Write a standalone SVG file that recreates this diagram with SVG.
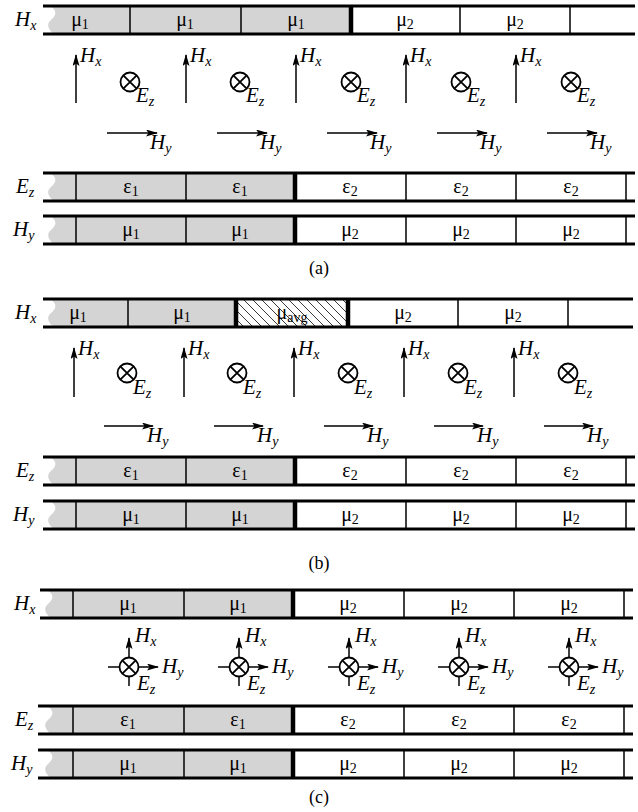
<svg xmlns="http://www.w3.org/2000/svg" width="638" height="812" viewBox="0 0 638 812" font-family="'Liberation Serif', 'Times New Roman', serif" font-size="20">
<defs>
<style>
.bd{stroke:#000;stroke-width:3}
.dv{stroke:#000;stroke-width:1.5}
.tk{stroke:#000;stroke-width:4.5}
.g{fill:#d4d4d4}
.ar{stroke:#000;stroke-width:1.5;fill:none;marker-end:url(#ah)}
.ln{stroke:#000;stroke-width:1.5;fill:none}
.ot{stroke:#000;stroke-width:1.8;fill:none}
</style>
<marker id="ah" markerUnits="userSpaceOnUse" markerWidth="12" markerHeight="7" refX="11" refY="3.5" orient="auto">
<path d="M0,0 L12,3.5 L0,7 L2.5,3.5 Z" fill="#000"/>
</marker>
<pattern id="hatch" patternUnits="userSpaceOnUse" width="9" height="9">
<path d="M-2,-2 L11,11 M-2,7 L2,11 M7,-2 L11,2" stroke="#222" stroke-width="0.9"/>
</pattern>
<g id="otimes"><circle r="9.5" class="ot"/><path d="M-6.7,-6.7 L6.7,6.7 M-6.7,6.7 L6.7,-6.7" class="ot"/></g>
</defs>
<rect width="638" height="812" fill="#fff"/>

<!-- ============ (a) ============ -->
<g id="a-hx-strip" transform="translate(0,6)">
<path class="g" d="M50,0 C58,5 56,10 51,14 C46,18 48,24 54,28 L351,28 L351,0 Z"/>
<line class="dv" x1="130" y1="0" x2="130" y2="28"/>
<line class="dv" x1="241" y1="0" x2="241" y2="28"/>
<line class="dv" x1="460" y1="0" x2="460" y2="28"/>
<line class="dv" x1="570" y1="0" x2="570" y2="28"/>
<line class="tk" x1="351" y1="0" x2="351" y2="28"/>
<line class="bd" x1="43" y1="0" x2="635" y2="0"/>
<line class="bd" x1="43" y1="28" x2="635" y2="28"/>
<g text-anchor="middle">
<text x="80" y="20">μ<tspan font-size="14" dy="3">1</tspan></text>
<text x="185" y="20">μ<tspan font-size="14" dy="3">1</tspan></text>
<text x="296" y="20">μ<tspan font-size="14" dy="3">1</tspan></text>
<text x="405" y="20">μ<tspan font-size="14" dy="3">2</tspan></text>
<text x="515" y="20">μ<tspan font-size="14" dy="3">2</tspan></text>
</g>
<text font-style="italic" font-size="21" x="15" y="20">H<tspan font-size="14" dy="4">x</tspan></text>
</g>

<g id="a-fields" font-style="italic" font-size="21">
<line class="ar" x1="76" y1="103" x2="76" y2="55"/>
<line class="ar" x1="186" y1="103" x2="186" y2="55"/>
<line class="ar" x1="296" y1="103" x2="296" y2="55"/>
<line class="ar" x1="406" y1="103" x2="406" y2="55"/>
<line class="ar" x1="516" y1="103" x2="516" y2="55"/>
<text x="80" y="62">H<tspan font-size="14" dy="4">x</tspan></text>
<text x="190" y="62">H<tspan font-size="14" dy="4">x</tspan></text>
<text x="300" y="62">H<tspan font-size="14" dy="4">x</tspan></text>
<text x="410" y="62">H<tspan font-size="14" dy="4">x</tspan></text>
<text x="520" y="62">H<tspan font-size="14" dy="4">x</tspan></text>
<use href="#otimes" x="130" y="82"/>
<use href="#otimes" x="240" y="82"/>
<use href="#otimes" x="351" y="82"/>
<use href="#otimes" x="461" y="82"/>
<use href="#otimes" x="571" y="82"/>
<text x="136" y="102">E<tspan font-size="14" dy="4">z</tspan></text>
<text x="246" y="102">E<tspan font-size="14" dy="4">z</tspan></text>
<text x="357" y="102">E<tspan font-size="14" dy="4">z</tspan></text>
<text x="467" y="102">E<tspan font-size="14" dy="4">z</tspan></text>
<text x="577" y="102">E<tspan font-size="14" dy="4">z</tspan></text>
<line class="ar" x1="107" y1="133" x2="157" y2="133"/>
<line class="ar" x1="217" y1="133" x2="267" y2="133"/>
<line class="ar" x1="327" y1="133" x2="377" y2="133"/>
<line class="ar" x1="437" y1="133" x2="487" y2="133"/>
<line class="ar" x1="547" y1="133" x2="597" y2="133"/>
<text x="150" y="149">H<tspan font-size="14" dy="4">y</tspan></text>
<text x="260" y="149">H<tspan font-size="14" dy="4">y</tspan></text>
<text x="370" y="149">H<tspan font-size="14" dy="4">y</tspan></text>
<text x="480" y="149">H<tspan font-size="14" dy="4">y</tspan></text>
<text x="590" y="149">H<tspan font-size="14" dy="4">y</tspan></text>
</g>

<g id="a-ez-strip" transform="translate(0,173)">
<path class="g" d="M50,0 C58,5 56,10 51,14 C46,18 48,24 54,28 L295,28 L295,0 Z"/>
<line class="dv" x1="76" y1="0" x2="76" y2="28"/>
<line class="dv" x1="186" y1="0" x2="186" y2="28"/>
<line class="dv" x1="406" y1="0" x2="406" y2="28"/>
<line class="dv" x1="516" y1="0" x2="516" y2="28"/>
<line class="dv" x1="626" y1="0" x2="626" y2="28"/>
<line class="tk" x1="295" y1="0" x2="295" y2="28"/>
<line class="bd" x1="43" y1="0" x2="635" y2="0"/>
<line class="bd" x1="43" y1="28" x2="635" y2="28"/>
<g text-anchor="middle">
<text x="131" y="20">ε<tspan font-size="14" dy="3">1</tspan></text>
<text x="240" y="20">ε<tspan font-size="14" dy="3">1</tspan></text>
<text x="350" y="20">ε<tspan font-size="14" dy="3">2</tspan></text>
<text x="461" y="20">ε<tspan font-size="14" dy="3">2</tspan></text>
<text x="571" y="20">ε<tspan font-size="14" dy="3">2</tspan></text>
</g>
<text font-style="italic" font-size="21" x="16" y="20">E<tspan font-size="14" dy="4">z</tspan></text>
</g>

<g id="a-hy-strip" transform="translate(0,216)">
<path class="g" d="M50,0 C58,5 56,10 51,14 C46,18 48,24 54,28 L295,28 L295,0 Z"/>
<line class="dv" x1="76" y1="0" x2="76" y2="28"/>
<line class="dv" x1="186" y1="0" x2="186" y2="28"/>
<line class="dv" x1="406" y1="0" x2="406" y2="28"/>
<line class="dv" x1="516" y1="0" x2="516" y2="28"/>
<line class="dv" x1="626" y1="0" x2="626" y2="28"/>
<line class="tk" x1="295" y1="0" x2="295" y2="28"/>
<line class="bd" x1="43" y1="0" x2="635" y2="0"/>
<line class="bd" x1="43" y1="28" x2="635" y2="28"/>
<g text-anchor="middle">
<text x="131" y="20">μ<tspan font-size="14" dy="3">1</tspan></text>
<text x="240" y="20">μ<tspan font-size="14" dy="3">1</tspan></text>
<text x="350" y="20">μ<tspan font-size="14" dy="3">2</tspan></text>
<text x="461" y="20">μ<tspan font-size="14" dy="3">2</tspan></text>
<text x="571" y="20">μ<tspan font-size="14" dy="3">2</tspan></text>
</g>
<text font-style="italic" font-size="21" x="13" y="20">H<tspan font-size="14" dy="4">y</tspan></text>
</g>
<text id="cap-a" text-anchor="middle" font-size="18" x="319" y="274">(a)</text>

<!-- ============ (b) ============ -->
<g id="b-hx-strip" transform="translate(0,299)">
<path class="g" d="M50,0 C58,5 56,10 51,14 C46,18 48,24 54,28 L236,28 L236,0 Z"/>
<rect x="236" y="0" width="112" height="28" fill="url(#hatch)"/>
<line class="dv" x1="128" y1="0" x2="128" y2="28"/>
<line class="dv" x1="458" y1="0" x2="458" y2="28"/>
<line class="dv" x1="568" y1="0" x2="568" y2="28"/>
<line class="tk" x1="236" y1="0" x2="236" y2="28"/>
<line class="tk" x1="348" y1="0" x2="348" y2="28"/>
<line class="bd" x1="43" y1="0" x2="633" y2="0"/>
<line class="bd" x1="43" y1="28" x2="633" y2="28"/>
<g text-anchor="middle">
<text x="78" y="20">μ<tspan font-size="14" dy="3">1</tspan></text>
<text x="182" y="20">μ<tspan font-size="14" dy="3">1</tspan></text>
<text x="292" y="20">μ<tspan font-size="14" dy="3">avg</tspan></text>
<text x="403" y="20">μ<tspan font-size="14" dy="3">2</tspan></text>
<text x="513" y="20">μ<tspan font-size="14" dy="3">2</tspan></text>
</g>
<text font-style="italic" font-size="21" x="15" y="20">H<tspan font-size="14" dy="4">x</tspan></text>
</g>

<g id="b-fields" font-style="italic" font-size="21">
<line class="ar" x1="74" y1="397" x2="74" y2="348"/>
<line class="ar" x1="184" y1="397" x2="184" y2="348"/>
<line class="ar" x1="294" y1="397" x2="294" y2="348"/>
<line class="ar" x1="404" y1="397" x2="404" y2="348"/>
<line class="ar" x1="514" y1="397" x2="514" y2="348"/>
<text x="78" y="355">H<tspan font-size="14" dy="4">x</tspan></text>
<text x="188" y="355">H<tspan font-size="14" dy="4">x</tspan></text>
<text x="298" y="355">H<tspan font-size="14" dy="4">x</tspan></text>
<text x="408" y="355">H<tspan font-size="14" dy="4">x</tspan></text>
<text x="518" y="355">H<tspan font-size="14" dy="4">x</tspan></text>
<use href="#otimes" x="127" y="373"/>
<use href="#otimes" x="237" y="373"/>
<use href="#otimes" x="348" y="373"/>
<use href="#otimes" x="458" y="373"/>
<use href="#otimes" x="568" y="373"/>
<text x="133" y="394">E<tspan font-size="14" dy="4">z</tspan></text>
<text x="243" y="394">E<tspan font-size="14" dy="4">z</tspan></text>
<text x="354" y="394">E<tspan font-size="14" dy="4">z</tspan></text>
<text x="464" y="394">E<tspan font-size="14" dy="4">z</tspan></text>
<text x="574" y="394">E<tspan font-size="14" dy="4">z</tspan></text>
<line class="ar" x1="104" y1="426" x2="153" y2="426"/>
<line class="ar" x1="214" y1="426" x2="263" y2="426"/>
<line class="ar" x1="324" y1="426" x2="373" y2="426"/>
<line class="ar" x1="434" y1="426" x2="483" y2="426"/>
<line class="ar" x1="544" y1="426" x2="593" y2="426"/>
<text x="147" y="442">H<tspan font-size="14" dy="4">y</tspan></text>
<text x="257" y="442">H<tspan font-size="14" dy="4">y</tspan></text>
<text x="367" y="442">H<tspan font-size="14" dy="4">y</tspan></text>
<text x="477" y="442">H<tspan font-size="14" dy="4">y</tspan></text>
<text x="587" y="442">H<tspan font-size="14" dy="4">y</tspan></text>
</g>

<g id="b-ez-strip" transform="translate(0,457)">
<path class="g" d="M50,0 C58,5 56,10 51,14 C46,18 48,24 54,28 L295,28 L295,0 Z"/>
<line class="dv" x1="76" y1="0" x2="76" y2="28"/>
<line class="dv" x1="186" y1="0" x2="186" y2="28"/>
<line class="dv" x1="406" y1="0" x2="406" y2="28"/>
<line class="dv" x1="516" y1="0" x2="516" y2="28"/>
<line class="dv" x1="626" y1="0" x2="626" y2="28"/>
<line class="tk" x1="295" y1="0" x2="295" y2="28"/>
<line class="bd" x1="43" y1="0" x2="635" y2="0"/>
<line class="bd" x1="43" y1="28" x2="635" y2="28"/>
<g text-anchor="middle">
<text x="131" y="20">ε<tspan font-size="14" dy="3">1</tspan></text>
<text x="240" y="20">ε<tspan font-size="14" dy="3">1</tspan></text>
<text x="350" y="20">ε<tspan font-size="14" dy="3">2</tspan></text>
<text x="461" y="20">ε<tspan font-size="14" dy="3">2</tspan></text>
<text x="571" y="20">ε<tspan font-size="14" dy="3">2</tspan></text>
</g>
<text font-style="italic" font-size="21" x="16" y="20">E<tspan font-size="14" dy="4">z</tspan></text>
</g>

<g id="b-hy-strip" transform="translate(0,501)">
<path class="g" d="M50,0 C58,5 56,10 51,14 C46,18 48,24 54,28 L295,28 L295,0 Z"/>
<line class="dv" x1="76" y1="0" x2="76" y2="28"/>
<line class="dv" x1="186" y1="0" x2="186" y2="28"/>
<line class="dv" x1="406" y1="0" x2="406" y2="28"/>
<line class="dv" x1="516" y1="0" x2="516" y2="28"/>
<line class="dv" x1="626" y1="0" x2="626" y2="28"/>
<line class="tk" x1="295" y1="0" x2="295" y2="28"/>
<line class="bd" x1="43" y1="0" x2="635" y2="0"/>
<line class="bd" x1="43" y1="28" x2="635" y2="28"/>
<g text-anchor="middle">
<text x="131" y="20">μ<tspan font-size="14" dy="3">1</tspan></text>
<text x="240" y="20">μ<tspan font-size="14" dy="3">1</tspan></text>
<text x="350" y="20">μ<tspan font-size="14" dy="3">2</tspan></text>
<text x="461" y="20">μ<tspan font-size="14" dy="3">2</tspan></text>
<text x="571" y="20">μ<tspan font-size="14" dy="3">2</tspan></text>
</g>
<text font-style="italic" font-size="21" x="13" y="20">H<tspan font-size="14" dy="4">y</tspan></text>
</g>
<text id="cap-b" text-anchor="middle" font-size="18" x="319" y="569">(b)</text>

<!-- ============ (c) ============ -->
<g id="c-hx-strip" transform="translate(0,590)">
<path class="g" d="M47,0 C55,5 53,10 48,14 C43,18 45,24 51,28 L293,28 L293,0 Z"/>
<line class="dv" x1="73" y1="0" x2="73" y2="28"/>
<line class="dv" x1="184" y1="0" x2="184" y2="28"/>
<line class="dv" x1="404" y1="0" x2="404" y2="28"/>
<line class="dv" x1="514" y1="0" x2="514" y2="28"/>
<line class="dv" x1="624" y1="0" x2="624" y2="28"/>
<line class="tk" x1="293" y1="0" x2="293" y2="28"/>
<line class="bd" x1="40" y1="0" x2="633" y2="0"/>
<line class="bd" x1="40" y1="28" x2="633" y2="28"/>
<g text-anchor="middle">
<text x="128" y="20">μ<tspan font-size="14" dy="3">1</tspan></text>
<text x="238" y="20">μ<tspan font-size="14" dy="3">1</tspan></text>
<text x="348" y="20">μ<tspan font-size="14" dy="3">2</tspan></text>
<text x="459" y="20">μ<tspan font-size="14" dy="3">2</tspan></text>
<text x="569" y="20">μ<tspan font-size="14" dy="3">2</tspan></text>
</g>
<text font-style="italic" font-size="21" x="14" y="20">H<tspan font-size="14" dy="4">x</tspan></text>
</g>

<g id="c-fields" font-style="italic" font-size="21">
<g id="c-node1" transform="translate(129,667)">
<line class="ln" x1="-21" y1="0" x2="-9.5" y2="0"/>
<line class="ln" x1="0" y1="9.5" x2="0" y2="19"/>
<line class="ar" x1="0" y1="-9.5" x2="0" y2="-29"/>
<line class="ar" x1="9.5" y1="0" x2="29" y2="0"/>
<use href="#otimes"/>
<text x="6" y="-25">H<tspan font-size="14" dy="4">x</tspan></text>
<text x="33" y="6">H<tspan font-size="14" dy="4">y</tspan></text>
<text x="8" y="23">E<tspan font-size="14" dy="4">z</tspan></text>
</g>
<g id="c-node2" transform="translate(239,667)">
<line class="ln" x1="-21" y1="0" x2="-9.5" y2="0"/>
<line class="ln" x1="0" y1="9.5" x2="0" y2="19"/>
<line class="ar" x1="0" y1="-9.5" x2="0" y2="-29"/>
<line class="ar" x1="9.5" y1="0" x2="29" y2="0"/>
<use href="#otimes"/>
<text x="6" y="-25">H<tspan font-size="14" dy="4">x</tspan></text>
<text x="33" y="6">H<tspan font-size="14" dy="4">y</tspan></text>
<text x="8" y="23">E<tspan font-size="14" dy="4">z</tspan></text>
</g>
<g id="c-node3" transform="translate(349,667)">
<line class="ln" x1="-21" y1="0" x2="-9.5" y2="0"/>
<line class="ln" x1="0" y1="9.5" x2="0" y2="19"/>
<line class="ar" x1="0" y1="-9.5" x2="0" y2="-29"/>
<line class="ar" x1="9.5" y1="0" x2="29" y2="0"/>
<use href="#otimes"/>
<text x="6" y="-25">H<tspan font-size="14" dy="4">x</tspan></text>
<text x="33" y="6">H<tspan font-size="14" dy="4">y</tspan></text>
<text x="8" y="23">E<tspan font-size="14" dy="4">z</tspan></text>
</g>
<g id="c-node4" transform="translate(459,667)">
<line class="ln" x1="-21" y1="0" x2="-9.5" y2="0"/>
<line class="ln" x1="0" y1="9.5" x2="0" y2="19"/>
<line class="ar" x1="0" y1="-9.5" x2="0" y2="-29"/>
<line class="ar" x1="9.5" y1="0" x2="29" y2="0"/>
<use href="#otimes"/>
<text x="6" y="-25">H<tspan font-size="14" dy="4">x</tspan></text>
<text x="33" y="6">H<tspan font-size="14" dy="4">y</tspan></text>
<text x="8" y="23">E<tspan font-size="14" dy="4">z</tspan></text>
</g>
<g id="c-node5" transform="translate(569,667)">
<line class="ln" x1="-21" y1="0" x2="-9.5" y2="0"/>
<line class="ln" x1="0" y1="9.5" x2="0" y2="19"/>
<line class="ar" x1="0" y1="-9.5" x2="0" y2="-29"/>
<line class="ar" x1="9.5" y1="0" x2="29" y2="0"/>
<use href="#otimes"/>
<text x="6" y="-25">H<tspan font-size="14" dy="4">x</tspan></text>
<text x="33" y="6">H<tspan font-size="14" dy="4">y</tspan></text>
<text x="8" y="23">E<tspan font-size="14" dy="4">z</tspan></text>
</g>
</g>

<g id="c-ez-strip" transform="translate(0,706)">
<path class="g" d="M47,0 C55,5 53,10 48,14 C43,18 45,24 51,28 L293,28 L293,0 Z"/>
<line class="dv" x1="73" y1="0" x2="73" y2="28"/>
<line class="dv" x1="184" y1="0" x2="184" y2="28"/>
<line class="dv" x1="404" y1="0" x2="404" y2="28"/>
<line class="dv" x1="514" y1="0" x2="514" y2="28"/>
<line class="dv" x1="624" y1="0" x2="624" y2="28"/>
<line class="tk" x1="293" y1="0" x2="293" y2="28"/>
<line class="bd" x1="38" y1="0" x2="633" y2="0"/>
<line class="bd" x1="38" y1="28" x2="633" y2="28"/>
<g text-anchor="middle">
<text x="128" y="20">ε<tspan font-size="14" dy="3">1</tspan></text>
<text x="238" y="20">ε<tspan font-size="14" dy="3">1</tspan></text>
<text x="348" y="20">ε<tspan font-size="14" dy="3">2</tspan></text>
<text x="459" y="20">ε<tspan font-size="14" dy="3">2</tspan></text>
<text x="569" y="20">ε<tspan font-size="14" dy="3">2</tspan></text>
</g>
<text font-style="italic" font-size="21" x="15" y="20">E<tspan font-size="14" dy="4">z</tspan></text>
</g>

<g id="c-hy-strip" transform="translate(0,750)">
<path class="g" d="M47,0 C55,5 53,10 48,14 C43,18 45,24 51,28 L293,28 L293,0 Z"/>
<line class="dv" x1="73" y1="0" x2="73" y2="28"/>
<line class="dv" x1="184" y1="0" x2="184" y2="28"/>
<line class="dv" x1="404" y1="0" x2="404" y2="28"/>
<line class="dv" x1="514" y1="0" x2="514" y2="28"/>
<line class="dv" x1="624" y1="0" x2="624" y2="28"/>
<line class="tk" x1="293" y1="0" x2="293" y2="28"/>
<line class="bd" x1="38" y1="0" x2="633" y2="0"/>
<line class="bd" x1="38" y1="28" x2="633" y2="28"/>
<g text-anchor="middle">
<text x="128" y="20">μ<tspan font-size="14" dy="3">1</tspan></text>
<text x="238" y="20">μ<tspan font-size="14" dy="3">1</tspan></text>
<text x="348" y="20">μ<tspan font-size="14" dy="3">2</tspan></text>
<text x="459" y="20">μ<tspan font-size="14" dy="3">2</tspan></text>
<text x="569" y="20">μ<tspan font-size="14" dy="3">2</tspan></text>
</g>
<text font-style="italic" font-size="21" x="11" y="20">H<tspan font-size="14" dy="4">y</tspan></text>
</g>
<text id="cap-c" text-anchor="middle" font-size="18" x="319" y="803">(c)</text>
</svg>
